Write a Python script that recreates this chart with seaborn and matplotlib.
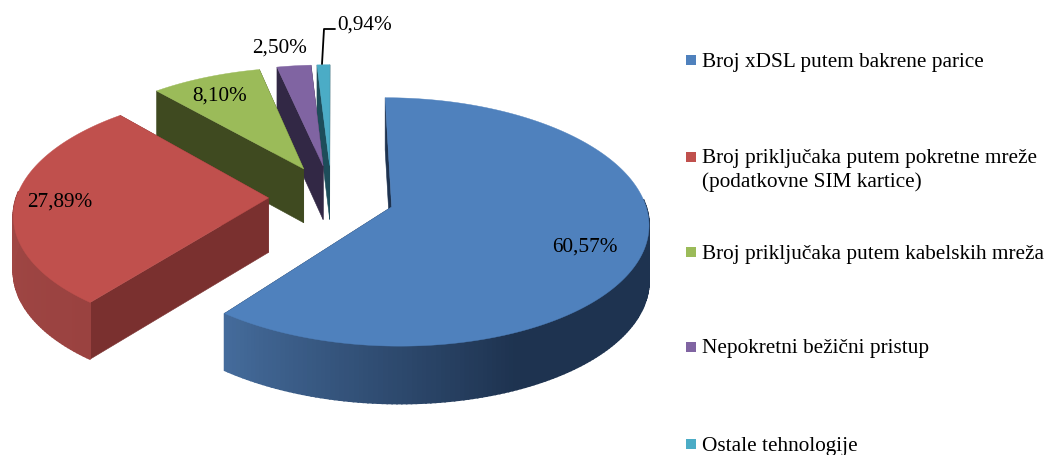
import numpy as np
import matplotlib
matplotlib.use("Agg")
import matplotlib.pyplot as plt
from matplotlib.colors import to_rgb
import seaborn as sns

categories = ["Broj xDSL putem bakrene parice",
              "Broj priključaka putem pokretne mreže\n(podatkovne SIM kartice)",
              "Broj priključaka putem kabelskih mreža",
              "Nepokretni bežični pristup",
              "Ostale tehnologije"]
values = [60.57, 27.89, 8.10, 2.50, 0.94]
value_labels = ["60,57%", "27,89%", "8,10%", "2,50%", "0,94%"]

palette = sns.color_palette(["#4F81BD", "#C0504D", "#9BBB59", "#8064A2", "#4BACC6"])
cut_colors = ["#1E3350", "#7A302F", "#3F4A20", "#322845", "#1D4D5A"]
wall_light = ["#456C9C", "#A64C49", "#5A6E30", "#4A3A60", "#2A6F82"]
wall_dark = ["#1E3350", "#9A4240", "#3F4A20", "#322845", "#1D4D5A"]

sns.set_style("white")
plt.rcParams["font.family"] = ["Liberation Serif", "DejaVu Serif"]

fig = plt.figure(figsize=(10.45, 4.55), dpi=100)
ax = fig.add_axes([0, 0, 1, 1])
ax.set_xlim(0, 1045)
ax.set_ylim(455, 0)
ax.axis("off")

CX, CY, RX, RY, K, DEPTH, EXPLODE = 331.5, 197.0, 252.0, 120.0, 0.12, 54.5, 0.25


def project(x, y, z=0.0):
    w = 1 / (1 + K * y)
    px = CX + RX * x * w
    py = CY - RY * y * w + z * DEPTH * (1 - 0.05 * y)
    return px, py


fractions = np.array(values) / sum(values)
edges = np.concatenate([[0], np.cumsum(fractions)]) * 2 * np.pi

for i in range(len(values) - 1, -1, -1):
    a0, a1 = edges[i], edges[i + 1]
    mid = (a0 + a1) / 2
    ox, oy = EXPLODE * np.sin(mid), EXPLODE * np.cos(mid)
    if i >= 2:
        oy *= 1.08
    ang = np.linspace(a0, a1, max(8, int((a1 - a0) * 60)))
    ax_x, ax_y = ox + np.sin(ang), oy + np.cos(ang)

    # straight cut faces
    for (cx, cy) in [(ax_x[0], ax_y[0]), (ax_x[-1], ax_y[-1])]:
        p1 = project(ox, oy), project(cx, cy), project(cx, cy, 1), project(ox, oy, 1)
        ax.fill(*zip(*p1), color=cut_colors[i], lw=0.4, zorder=10 + (4 - i) * 3)

    # outer curved wall, only its front-facing part, shaded by angle
    light, dark = np.array(to_rgb(wall_light[i])), np.array(to_rgb(wall_dark[i]))
    for j in range(len(ang) - 1):
        if np.cos(ang[j]) > 0.05 and np.cos(ang[j + 1]) > 0.05:
            continue
        t = np.clip((ang[j] - np.radians(156)) / np.radians(62), 0, 1) if i == 0 else \
            np.clip((ang[j] - a0) / max(a1 - a0, 1e-6), 0, 1)
        col = dark + (light - dark) * t
        quad = (project(ax_x[j], ax_y[j]), project(ax_x[j + 1], ax_y[j + 1]),
                project(ax_x[j + 1], ax_y[j + 1], 1), project(ax_x[j], ax_y[j], 1))
        ax.fill(*zip(*quad), color=col, lw=1.2, zorder=11 + (4 - i) * 3)

    # top surface
    top = [project(ox, oy)] + [project(a, b) for a, b in zip(ax_x, ax_y)]
    ax.fill(*zip(*top), color=palette[i], lw=0.3, zorder=12 + (4 - i) * 3)

# data labels
label_xy = [(585, 245), (60, 200), (220, 94), (280, 46), (364.5, 23)]
for txt, (x, y) in zip(value_labels, label_xy):
    ax.text(x, y + 6.5, txt, fontsize=15.3, color="black", ha="center", va="baseline", zorder=40)
ax.plot([322, 324, 335], [64, 29, 29], color="black", lw=1.3, zorder=40)

# legend
legend_y = [60, 157, 252, 347, 444]
for lab, col, y in zip(categories, palette, legend_y):
    ax.scatter([690.5], [y], marker="s", s=62, color=col, linewidths=0, zorder=40)
    for n, line in enumerate(lab.split("\n")):
        ax.text(702, y + 6.5 + 24 * n, line, fontsize=15.3, color="black", ha="left",
                va="baseline", zorder=40)

fig.savefig("out.png", dpi=100, facecolor="white")
